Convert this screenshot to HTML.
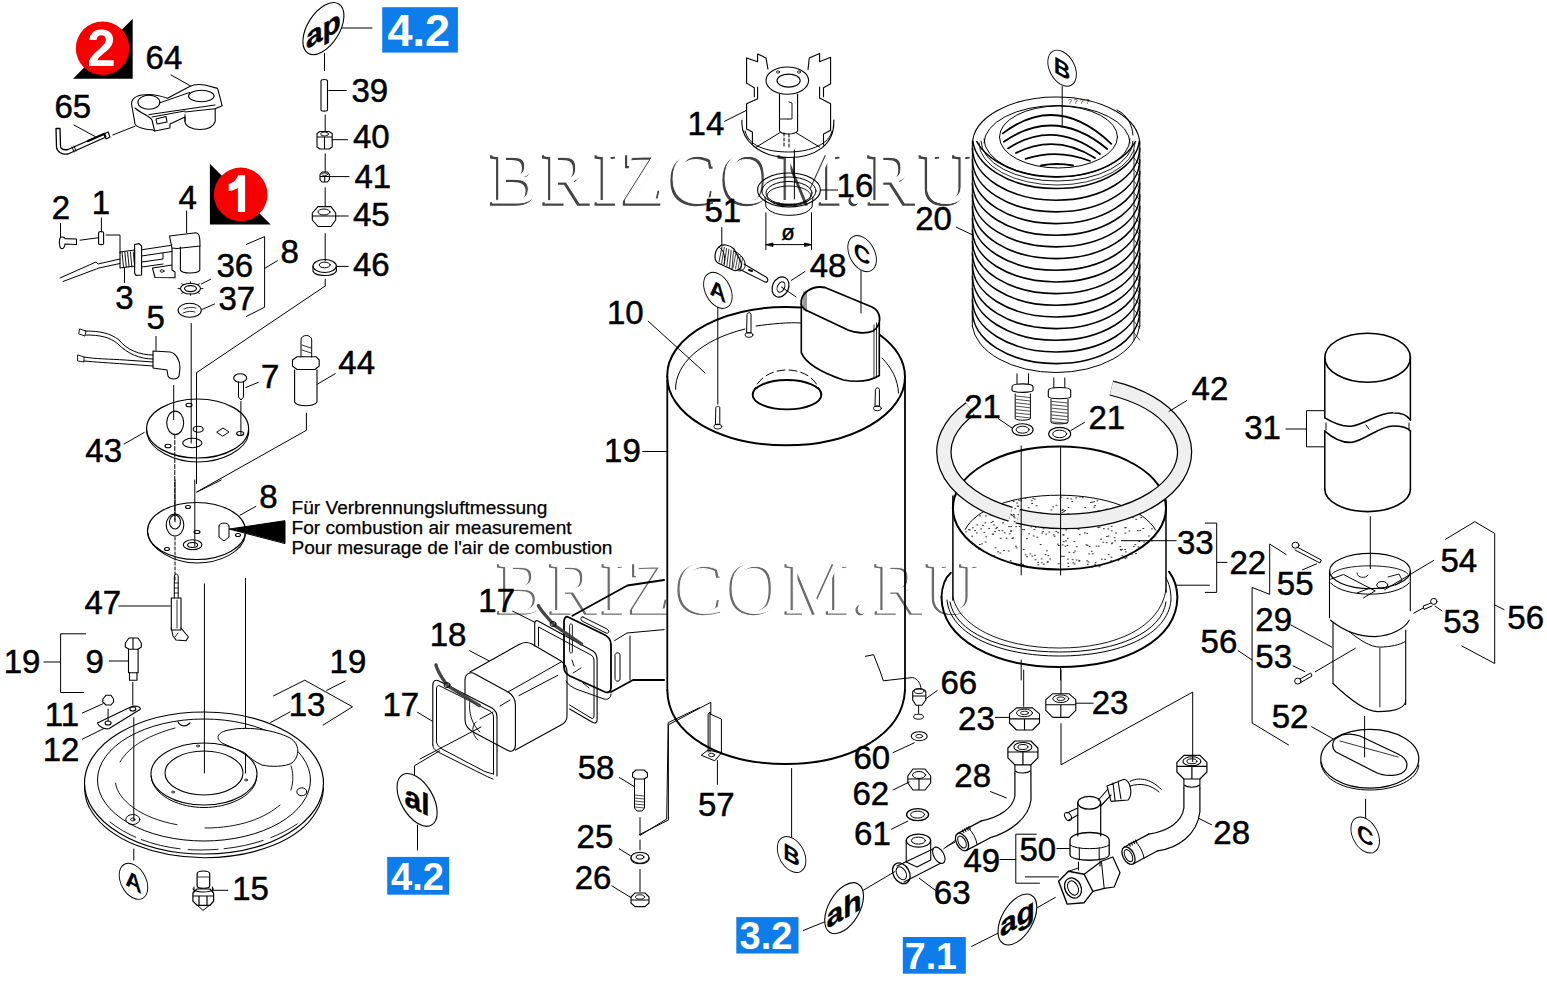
<!DOCTYPE html><html><head><meta charset="utf-8"><style>html,body{margin:0;padding:0;background:#fff;width:1547px;height:981px;overflow:hidden}svg{display:block}</style></head><body><svg width="1547" height="981" viewBox="0 0 1547 981"><rect width="1547" height="981" fill="#fff"/><g opacity="0.95"><text x="488.4" y="204.6" fill="#3a3a3a" stroke="#3a3a3a" stroke-width="1.3" font-family="Liberation Serif" font-size="73" textLength="482" lengthAdjust="spacing">BRIZCOM.RU</text><text x="490.4" y="203.2" fill="#fff" stroke="#fff" stroke-width="0.8" font-family="Liberation Serif" font-size="73" textLength="482" lengthAdjust="spacing">BRIZCOM.RU</text></g><g opacity="0.75"><text x="495.4" y="614.3" fill="#3a3a3a" stroke="#3a3a3a" stroke-width="1.3" font-family="Liberation Serif" font-size="73" textLength="482" lengthAdjust="spacing">BRIZCOM.RU</text><text x="497.4" y="612.9" fill="#fff" stroke="#fff" stroke-width="0.8" font-family="Liberation Serif" font-size="73" textLength="482" lengthAdjust="spacing">BRIZCOM.RU</text></g><g fill="none" stroke="#000" stroke-width="1.2" stroke-linejoin="round" stroke-linecap="round"><path d="M131.5,103.5 C132,97 140,94.5 149,94.5 C156,94.5 161,96 167.5,98.3 L189.6,86.6 C193,84.5 199,84 205,85 L217.6,88.4 L222.2,105.8 L215.2,108.7 L215.2,121.5 C213,128 205,129.5 200,129.5 C192,129.5 185,126 185,121.5 L185,117 L170,123.9 L169.9,128 L154.7,131 L152.4,129.7 C145,130 136,127 135,123.9 L132.6,110 Z" stroke-width="1.1" /><ellipse cx="148.9" cy="102.3" rx="11" ry="7" stroke-width="1.1"/><ellipse cx="201.3" cy="96" rx="12.8" ry="5.8" stroke-width="1.1"/><path d="M159.4,102.9 L189.6,92.5" stroke-width="1.0" /><path d="M148.9,114.6 L215,105" stroke-width="1.0" /><path d="M152,117 L185,111" stroke-width="1.0" /><path d="M185,114.6 L185,121.5" stroke-width="1.0" /><path d="M215.2,108.7 L185,112" stroke-width="1.0" /><path d="M135,108 C140,113 150,116 152,120 L154.7,131" stroke-width="1.1" /><path d="M156,119 L166,116.5 L167,122 L157,124 Z" stroke-width="1.1" /><path d="M171,75 L190.8,86" stroke-width="1.0" /><path d="M56,128.5 L56.5,147 C57,152 62,155 68,154 L106,137 L104.5,133.5 L68,149.5 C62,150.5 60.5,148 60.5,146 L60,128.5 Z" stroke-width="1.3" /><path d="M88,141 L104,134" stroke-width="2.2" /><path d="M72,147 L74,152 M74,146 L76,151" stroke-width="1.0" /><path d="M103.5,134 L108.2,132 L110,137 L106,139 Z" stroke-width="1.1" /><path d="M112.8,135 L135,126.2" stroke-width="1.0" /><path d="M73.9,125 L95.4,136.7" stroke-width="1.0" /><path d="M60,238 C59,241 59,246 61,248.5 C63,249 65,247 65,244 L76.5,244.5 L76.5,239 L65,238.6 C64,236.5 61,236.5 60,238 Z" stroke-width="1.1" /><path d="M60.5,223.4 L60.5,237.4" stroke-width="1.0" /><path d="M98.6,233 C98.6,231 103.6,231 103.6,233 L103.6,243.5 C103.6,245 98.6,245 98.6,243.5 Z" stroke-width="1.1" /><path d="M101.4,218 L101.4,232" stroke-width="1.0" /><path d="M80,240.2 L98.6,237.7" stroke-width="1.0" /><path d="M106,235 L120,235 L120,253" stroke-width="1.0" /><path d="M120,252 L134.6,250 L134.6,266 L120,268 Z" stroke-width="1.1" /><path d="M122.0,252 L123.5,267" stroke-width="0.9" /><path d="M124.8,252 L126.3,267" stroke-width="0.9" /><path d="M127.6,252 L129.1,267" stroke-width="0.9" /><path d="M130.4,252 L131.9,267" stroke-width="0.9" /><path d="M133.2,252 L134.7,267" stroke-width="0.9" /><path d="M134.6,244.5 L139,243.6 L141.6,246 L141.6,275 L136,275.4 L134.6,273 Z" stroke-width="1.1" /><path d="M141.6,249.8 L171.9,245.2" stroke-width="1.0" /><path d="M141.6,256 L171.9,251.5" stroke-width="1.0" /><path d="M142,262 L163,259 L163,253" stroke-width="1.0" /><path d="M142,267 L163,264" stroke-width="1.0" /><path d="M120,259 L98,264 L96,262 L60,278 M120,263.5 L99,268 L63,281.5" stroke-width="1.0" /><path d="M124.5,268.4 L124.5,282.4" stroke-width="1.0" /><path d="M169.5,236 L196,232.7 C199,233 200,236 200,246 L177,248.5 L172,248 Z" stroke-width="1.1" /><path d="M172,248 L172,270 L175,272 L175,277.7 L155,277.5 L152.5,268 L172,265" stroke-width="1.1" /><path d="M180.4,247 L180.4,270 C182,274 198,274 199.8,270 L199.8,246" stroke-width="1.1" /><ellipse cx="162" cy="271" rx="2" ry="1.2" stroke-width="0.9"/><path d="M186.6,211 L186.6,232.7" stroke-width="1.0" /><ellipse cx="190.5" cy="288.6" rx="10" ry="5.4" stroke-width="1.1"/><ellipse cx="190.5" cy="288.6" rx="6" ry="3" stroke-width="1.1"/><path d="M200.5,288.6 L203.0,288.6" stroke-width="0.9" /><path d="M197.57106781186548,292.41837661840736 L199.33883476483186,293.40832611206855" stroke-width="0.9" /><path d="M190.5,294.0 L190.5,295.40000000000003" stroke-width="0.9" /><path d="M183.42893218813452,292.41837661840736 L181.66116523516817,293.40832611206855" stroke-width="0.9" /><path d="M180.5,288.6 L178.0,288.6" stroke-width="0.9" /><path d="M183.42893218813452,284.7816233815927 L181.66116523516814,283.7916738879315" stroke-width="0.9" /><path d="M190.5,283.20000000000005 L190.5,281.8" stroke-width="0.9" /><path d="M197.57106781186548,284.7816233815927 L199.33883476483183,283.7916738879315" stroke-width="0.9" /><ellipse cx="189.7" cy="310.3" rx="11.6" ry="7" stroke-width="1.1"/><path d="M184,309 C188,307 192,307 196,308 M183,313 C187,311 193,311 195,312" stroke-width="0.8" /><path d="M201.3,284 L210.6,279.3" stroke-width="1.0" /><path d="M202,309.5 L214.5,304" stroke-width="1.0" /><path d="M246.3,244.4 L264.6,236.6 L264.6,307.2 L246.3,316.5" stroke-width="1.0" /><path d="M264.6,268.4 L277.4,260.7" stroke-width="1.0" /><path d="M324.5,53.5 L324.5,70.5" stroke-width="1.0" /><path d="M321,81 C321,79 327.5,79 327.5,81 L327.5,110 C327.5,111.5 321,111.5 321,110 Z" stroke-width="1.1" /><path d="M328.7,90.5 L346.3,90.5" stroke-width="1.0" /><path d="M325.2,115 L325.2,131" stroke-width="1.0" /><path d="M317,133.5 L320,131.5 L329,131.5 L332.2,133.5 L332.2,147 L329,149 L320,149 L317,147 Z M317,137 L332.2,137 M324.5,137 L324.5,149" stroke-width="1.1" /><ellipse cx="324.5" cy="134" rx="4" ry="2" stroke-width="0.9"/><path d="M332.2,139.7 L347.5,139.7" stroke-width="1.0" /><path d="M325.2,153.8 L325.2,172" stroke-width="1.0" /><path d="M320,174.5 L322,172 L327.5,172 L329.4,174.5 L329.4,179.5 L327.5,182 L322,182 L320,179.5 Z M320,176.5 L329.4,176.5 M324.7,176.5 L324.7,182" stroke-width="1.1" /><ellipse cx="324.7" cy="174.3" rx="3" ry="1.3" stroke-width="0.8"/><path d="M329.4,176.6 L349,176.6" stroke-width="1.0" /><path d="M325.2,187.8 L325.2,206" stroke-width="1.0" /><path d="M312.3,213 L318,206.6 L331,206.6 L335.7,213 L335.7,220 L331,226.5 L318,226.5 L312.3,220 Z M312.3,216 L335.7,216" stroke-width="1.1" /><ellipse cx="324" cy="212" rx="6" ry="3" stroke-width="1.0"/><path d="M335.7,216 L348.2,216" stroke-width="1.0" /><path d="M325.2,233.6 L325.2,261" stroke-width="1.0" /><ellipse cx="324.7" cy="266" rx="11.7" ry="6.5" stroke-width="1.1"/><ellipse cx="324.7" cy="265" rx="5.5" ry="2.8" stroke-width="1.0"/><path d="M313,266 L313,271 C315,277 334,277 336.4,271 L336.4,266" stroke-width="1.1" /><path d="M336.4,266.4 L348.2,266.4" stroke-width="1.0" /><path d="M325.2,279.3 L325.2,286" stroke-width="1.0" /><path d="M325.2,286 L196.5,372.7" stroke-width="1.0" /><path d="M156,336.4 L156,350.3" stroke-width="1.0" /><path d="M153,351 L170,352 C176,353 180,360 180,368 L179,376 C177,380 170,380 168,376 L167,370 L153,368 Z" stroke-width="1.1" /><path d="M153,355 C140,355 127,350 119,340 C110,333 100,331 85,331 M153,359 C140,359 128,354 118,344 C110,337 100,335 86,335" stroke-width="1.0" /><path d="M153,362 L125,360 C110,359 95,359 84,357 M153,366 L125,364 C110,363 95,362 84,361" stroke-width="1.0" /><path d="M80,329 L86,331 L85,336 L79,334 Z M78,355 L84,357 L84,362 L78,361 Z" stroke-width="0.9" /><path d="M173.7,385.5 L173.7,419.6" stroke-width="1.0" /><path d="M174.8,434.5 L174.8,520" stroke-width="1.0" stroke-dasharray="4,2"/><path d="M191.2,323.5 L191.2,443" stroke-width="1.0" /><path d="M196.5,372.7 L196.5,483.6" stroke-width="1.0" /><ellipse cx="197.6" cy="428.5" rx="51" ry="29.5" stroke-width="1.2"/><path d="M146.6,430 L147,434 C150,450 175,462 197.6,462 C222,462 246,450 248.6,434 L248.6,430" stroke-width="1.1" /><ellipse cx="175.2" cy="422.8" rx="8.5" ry="11.7" stroke-width="1.1"/><ellipse cx="192.3" cy="443" rx="9.6" ry="4.7" stroke-width="1.1"/><ellipse cx="198.2" cy="429.2" rx="5" ry="3" stroke-width="1.1"/><path d="M217,432 L223,428 L229,432 L223,436 Z" stroke-width="1.0" /><ellipse cx="240.2" cy="433.5" rx="3.5" ry="2" stroke-width="1.1"/><ellipse cx="168" cy="446" rx="3" ry="1.8" stroke-width="1.1"/><ellipse cx="189" cy="405" rx="3" ry="1.8" stroke-width="1.1"/><ellipse cx="240.2" cy="378" rx="6.5" ry="4.3" stroke-width="1.1"/><path d="M238.5,382 L238.5,397 L241,400 L243.5,397 L243.5,382" stroke-width="1.0" /><path d="M245.6,387.6 L258.4,382.3" stroke-width="1.0" /><path d="M240.9,401.5 L240.9,434.5" stroke-width="1.0" /><path d="M294.6,370 L294.6,402 C297,407 314,407 317,402 L317,370" stroke-width="1.1" /><path d="M292.5,360 L297,356.7 L316,356.7 L319.2,360 L319.2,366 L315,369.5 L297,369.5 L292.5,366 Z" stroke-width="1.1" /><path d="M301,357 L301,340 C301,334 311.7,334 311.7,340 L311.7,357" stroke-width="1.0" /><path d="M302,345 L311,348" stroke-width="0.8" /><path d="M302,350 L311,353" stroke-width="0.8" /><path d="M317,384.4 L335.2,373.7" stroke-width="1.0" /><path d="M306.4,413.2 L306.4,430.3 L196.5,492.1" stroke-width="1.0" /><path d="M124,444.1 L144.3,432.4" stroke-width="1.0" /><ellipse cx="196.5" cy="531" rx="49" ry="28.5" stroke-width="1.2"/><path d="M147.6,533 C150,550 175,563 196.5,563 C220,563 243,552 245.4,535" stroke-width="1.1" /><ellipse cx="175" cy="525" rx="8.8" ry="11" stroke-width="1.1"/><ellipse cx="175" cy="522" rx="5.5" ry="7" stroke-width="1.1"/><ellipse cx="192.6" cy="544.8" rx="9.3" ry="5" stroke-width="1.1"/><ellipse cx="192.6" cy="545" rx="5" ry="2.5" stroke-width="1.1"/><path d="M219,526 L219,537 L224,541 L229,537 L229,526 M219,526 C219,522 229,522 229,526" stroke-width="1.0" /><ellipse cx="188" cy="507" rx="2.5" ry="1.5" stroke-width="1.1"/><ellipse cx="167" cy="549" rx="2.5" ry="1.5" stroke-width="1.1"/><ellipse cx="238" cy="535" rx="2.5" ry="1.5" stroke-width="1.1"/><ellipse cx="197" cy="532" rx="3" ry="1.5" stroke-width="1.1"/><path d="M229.5,529 L285,520.7 L285,543.2 Z" stroke-width="1.0" fill="#000"/><path d="M175,480 L175,521.8" stroke-width="1.0" /><path d="M175,537 L175,580" stroke-width="1.0" stroke-dasharray="3,2"/><path d="M194.8,480 L194.8,546" stroke-width="1.0" /><path d="M197,492 L221.2,480" stroke-width="1.0" /><path d="M240,515.2 L255.8,506.4" stroke-width="1.0" /><path d="M174.3,598 L174.3,577 C174.3,573 178.2,573 178.2,577 L178.2,598" stroke-width="1.0" /><path d="M174.3,583 L178.2,583" stroke-width="0.8" /><path d="M174.3,588 L178.2,588" stroke-width="0.8" /><path d="M174.3,593 L178.2,593" stroke-width="0.8" /><path d="M171.3,598 L181,598 L181,630 L171.3,630 Z" stroke-width="1.1" /><path d="M177,600 L177,628" stroke-width="0.8" /><path d="M171.3,628 L173,636 L176,640 L186,640.7 L188.4,637 L181,628" stroke-width="1.1" /><path d="M175,637 L178,633" stroke-width="0.8" /><path d="M118.8,606 L170.2,606" stroke-width="1.0" /><path d="M85.7,633.8 L60.6,633.8 L60.6,692.5 L83.5,692.5" stroke-width="1.0" /><path d="M43.9,662 L60.6,662" stroke-width="1.0" /><path d="M125.3,643 L129,638 L138,638 L141.3,643 L141.3,647 L138,649.2 L129,649.2 L125.3,647 Z M133,638 L133,649" stroke-width="1.1" /><path d="M128.5,649.2 L128.5,672.8 L138.1,672.8 L138.1,649.2" stroke-width="1.1" /><path d="M129.5,672.8 L129.5,680.3 L137,680.3 L137,672.8" stroke-width="1.1" /><path d="M109.2,661 L128.5,661" stroke-width="1.0" /><path d="M132.8,682.4 L132.8,705" stroke-width="1.0" /><path d="M102.8,699 L106,695.3 L111,695.3 L113.5,699 L113.5,702 L111,705 L106,705 L102.8,702 Z" stroke-width="1.1" /><path d="M108.1,709 L108.1,721" stroke-width="1.0" /><path d="M97.4,723.1 L130.6,707 C136,705 141,707 140.3,709.2 L109.2,728.5 C105,730 99,727 97.4,723.1 Z" stroke-width="1.1" /><ellipse cx="108.1" cy="723" rx="3" ry="2" stroke-width="1.1"/><ellipse cx="132.8" cy="709" rx="3" ry="2" stroke-width="1.1"/><path d="M82.4,713 L102.8,703.8" stroke-width="1.0" /><path d="M82.4,739.2 L103.9,728.5" stroke-width="1.0" /><path d="M133.8,717.8 L133.8,820" stroke-width="1.0" /><path d="M273.6,695.8 L304.8,680.2 L352.5,706.8 L323.1,725.1" stroke-width="1.0" /><path d="M326.8,690.3 L345.1,681.1" stroke-width="1.0" /><path d="M270.8,722.4 L290.1,711.9" stroke-width="1.0" /><path d="M204.4,583.9 L204.4,773" stroke-width="1.0" /><path d="M245.5,578.3 L245.5,773" stroke-width="1.0" /><ellipse cx="204" cy="783" rx="119.5" ry="71" stroke-width="1.2"/><path d="M84.5,786 C85,800 88,806 92,812 C110,840 155,857.7 204,857.7 C255,857.7 300,840 316,812 C320,806 323,798 323.5,788" stroke-width="1.1" /><path d="M110,822 C135,842 170,850 200,850 C240,850 275,840 300,822" stroke-width="0.9" stroke-dasharray="30,6,40,8"/><ellipse cx="204" cy="780" rx="106.5" ry="61" stroke-width="1.0"/><path d="M115.5,783.2 C118,800 140,818 177,824.7 M205,828 C240,828 265,818 280,805 M291,765.8 C293,772 294,780 291,790 M120,762 C130,745 150,735 175,728" stroke-width="0.9" /><ellipse cx="204" cy="774" rx="53" ry="31" stroke-width="1.1"/><path d="M151,776 L152,781 C157,797 180,807.5 204,807.5 C228,807.5 252,797 256,781 L256.7,776" stroke-width="1.0" /><ellipse cx="204" cy="773" rx="39" ry="22" stroke-width="1.1"/><path d="M222,743 C215,738 218,733 225,731 C245,725 275,730 290,738 C300,744 300,756 292,763 C285,767 270,767 262,765 C255,762 250,758 245,753 Z" stroke-width="1.0" fill="#fff"/><ellipse cx="132.8" cy="819.5" rx="7" ry="5" stroke-width="1.0"/><ellipse cx="132.8" cy="819.5" rx="2.2" ry="1.5" stroke-width="0.9"/><ellipse cx="301.8" cy="791.8" rx="5" ry="4" stroke-width="1.0"/><path d="M178,722 C181,727 186,727 190,723" stroke-width="1.2" /><ellipse cx="198" cy="746" rx="1.5" ry="1" stroke-width="0.8"/><ellipse cx="173" cy="792" rx="1.5" ry="1" stroke-width="0.8"/><ellipse cx="246" cy="780" rx="1.5" ry="1" stroke-width="0.8"/><path d="M133.8,849 L133.8,860" stroke-width="1.0" /><path d="M197.1,874 C197.1,870 209.7,870 209.7,874 L209.7,886 C209.7,889 197.1,889 197.1,886 Z" stroke-width="1.2" /><path d="M198,877 L208.5,877" stroke-width="0.8" /><path d="M194,887 L194,892 M212.5,887 L212.5,892 M193,889 C196,893 210,893 213.5,889" stroke-width="1.1" /><path d="M192.9,893 L197,889 L210,889 L213.6,893 L213.6,901 L210,905.3 L197,905.3 L192.9,901 Z M193,896 L213.6,896 M199,896 L199,905 M207,896 L207,905" stroke-width="1.2" /><path d="M194.9,903 L203,910.4 L212.3,903" stroke-width="1.0" /><path d="M212.3,890.3 L227.8,890.3" stroke-width="1.0" /><path d="M746.6,83.1 L746.6,57.9 L757.6,61.8 L757.6,54 L766,57.9 L767.9,68.9" stroke-width="1.1" /><path d="M746.6,83.1 L754.3,87.7 L754.3,96.7 M757.6,87 L757.6,98.7 L746.6,103.8 L746.6,129 L752.4,132 L752.4,144" stroke-width="1.1" /><path d="M830.6,83.8 L830.6,57.3 L819.6,61.8 L819.6,53.4 L809.3,57.9 L808,69.6" stroke-width="1.1" /><path d="M830.6,83.8 L823.5,87.7 L823.5,96.7 M819.6,87 L819.6,98 L830.6,103.8 L830.6,130.3 L823.5,134 L823.5,145" stroke-width="1.1" /><ellipse cx="787.3" cy="80.6" rx="21.3" ry="13.6" stroke-width="1.1"/><ellipse cx="788.6" cy="80.6" rx="11.6" ry="6.5" stroke-width="1.1"/><ellipse cx="778" cy="72" rx="1.5" ry="1.2" stroke-width="0.8"/><ellipse cx="799" cy="72" rx="1.5" ry="1.2" stroke-width="0.8"/><path d="M779.5,94.1 L779.5,131 C782,135 794,135 797.6,131 L797.6,94.1" stroke-width="1.1" /><path d="M789,102 L792,103 L792,119 L788,119" stroke-width="0.9" /><path d="M779.5,119 L788,119" stroke-width="0.9" /><path d="M742,120 C740,140 760,157.5 788.6,157.5 C815,157.5 835,145 833.8,120" stroke-width="1.1" /><path d="M745,131 C748,145 765,152 788.6,152 C812,152 830,143 832,131" stroke-width="1.0" /><path d="M756.3,147.1 L779.5,132.9" stroke-width="1.0" /><path d="M819.6,147.1 L796.4,132.9" stroke-width="1.0" /><path d="M784,133 L784,148" stroke-width="1.0" stroke-dasharray="3,2"/><path d="M789,134 L789,148" stroke-width="1.0" stroke-dasharray="3,2"/><path d="M724.6,121.3 L746.6,110.3" stroke-width="1.0" /><path d="M793.8,157.5 L793.8,176" stroke-width="1.0" /><ellipse cx="789" cy="190" rx="31.4" ry="17" stroke-width="1.1"/><ellipse cx="789" cy="191" rx="27" ry="14" stroke-width="1.0"/><ellipse cx="789" cy="193" rx="23" ry="11.5" stroke-width="1.0"/><ellipse cx="789" cy="196" rx="22" ry="10" stroke-width="0.9"/><path d="M765,197 L766,207 C770,213 780,215.3 789,215.3 C800,215.3 808,213 812,207 L813,197" stroke-width="1.0" /><path d="M820.5,190 L837.6,190" stroke-width="1.0" /><path d="M794.4,150 L794.4,199" stroke-width="1.0" /><path d="M765.9,212.8 L765.9,249.5" stroke-width="1.0" /><path d="M811.5,212.8 L811.5,249.5" stroke-width="1.0" /><path d="M766,244.6 L811.5,244.6" stroke-width="1.0" /><path d="M766,244.6 L773,243 L773,246.2 Z M811.5,244.6 L804.5,243 L804.5,246.2 Z" stroke-width="0.8" fill="#000"/><text x="788" y="240" text-anchor="middle" font-family="Liberation Sans" font-size="22" fill="#000" stroke="#000" stroke-width="0.4">ø</text><path d="M719,247 C722,243 730,245 734,249 L741,262 C743,268 738,272 733,270 L718,263 C713,260 715,250 719,247 Z" stroke-width="1.2" /><path d="M719,247 C723,249 726,256 724,264" stroke-width="1.0" /><path d="M722.0,246.5 L719.0,262.0" stroke-width="0.8" /><path d="M724.3,247.4 L721.6,263.4" stroke-width="0.8" /><path d="M726.6,248.3 L724.2,264.8" stroke-width="0.8" /><path d="M728.9,249.2 L726.8,266.2" stroke-width="0.8" /><path d="M731.2,250.1 L729.4,267.6" stroke-width="0.8" /><path d="M733.5,251.0 L732.0,269.0" stroke-width="0.8" /><path d="M734,251 C738,252 744,258 745,263 C746,268 743,271 739,271" stroke-width="1.0" /><path d="M736.0,253.0 L733.0,268.0" stroke-width="0.7" /><path d="M738.2,254.5 L735.5,268.8" stroke-width="0.7" /><path d="M740.4,256.0 L738.0,269.6" stroke-width="0.7" /><path d="M742.6,257.5 L740.5,270.4" stroke-width="0.7" /><path d="M744,264 L766,277 C769,279 768,283 765,282 L741,270" stroke-width="1.1" /><path d="M749,270 L752,271" stroke-width="2.0" /><path d="M721.8,227.5 L721.8,244.6" stroke-width="1.0" /><ellipse cx="780.5" cy="287" rx="8" ry="10.5" stroke-width="1.2" transform="rotate(25 780.5 287)"/><ellipse cx="781" cy="287" rx="3.5" ry="5.5" stroke-width="1.0" transform="rotate(25 781 287)"/><path d="M791.1,280.5 L805,271.5" stroke-width="1.0" /><path d="M781.4,287 L796,296.8" stroke-width="1.0" /><path d="M667.3,377 A118.8,68.3 0 0 0 905,377" stroke-width="2.0" /><path d="M667.3,377 A118.8,68.3 0 0 1 801,307.5" stroke-width="2.0" /><path d="M880,335 A118.8,68.3 0 0 1 905,377" stroke-width="2.0" /><path d="M675.6,389.3 C675,365 700,340 745,329" stroke-width="1.0" /><path d="M756,326 C770,324 790,322 801,323" stroke-width="1.0" /><path d="M882,358 C892,368 898,380 898.5,393" stroke-width="1.0" /><ellipse cx="787" cy="394.7" rx="34.4" ry="14.7" stroke-width="1.8"/><path d="M753,395 C755,380 770,370 787,370 C805,370 818,380 821,395" stroke-width="1.0" stroke-dasharray="8,4"/><path d="M801.3,304 C800,293 812,285 825,287.5 L872,307 C882,312 882,325 873,331 C866,334 855,333 848,330 L812,313 C805,310 801.3,308 801.3,304 Z" stroke-width="1.8" fill="#fff"/><path d="M801.3,304 L801.3,352.6 C805,362 820,372 843.5,380 C860,383 872,380 879.3,375.5 L879.3,323" stroke-width="1.6" /><path d="M874,325 L874,378" stroke-width="0.8" /><path d="M876.5,323 L876.5,377" stroke-width="0.8" /><path d="M804,292 L804,310" stroke-width="0.8" /><path d="M806,291 L806,311" stroke-width="0.8" /><path d="M747,314.2 C747,312.2 751,312.2 751,314.2 L751,332.9 L747,332.9 Z" stroke-width="1.0" /><ellipse cx="749" cy="334.9" rx="4" ry="2.5" stroke-width="0.9"/><path d="M715.8,407.8 C715.8,405.8 719.8,405.8 719.8,407.8 L719.8,424.6 L715.8,424.6 Z" stroke-width="1.0" /><ellipse cx="717.8" cy="426.6" rx="4" ry="2.5" stroke-width="0.9"/><path d="M875.4,389.4 C875.4,387.4 879.4,387.4 879.4,389.4 L879.4,406.3 L875.4,406.3 Z" stroke-width="1.0" /><ellipse cx="877.4" cy="408.3" rx="4" ry="2.5" stroke-width="0.9"/><path d="M717.8,307.6 L717.8,404" stroke-width="1.0" /><path d="M861,270.7 L861,313" stroke-width="1.0" /><path d="M648.2,321.2 L705,372.8" stroke-width="1.0" /><path d="M667.3,380 L667.3,690" stroke-width="1.8" /><path d="M905,380 L905,690" stroke-width="1.8" /><path d="M667.3,690 C668,735 720,764 786,764 C850,764 903,735 905,690" stroke-width="2.0" /><path d="M642.7,451.5 L666.6,451.5" stroke-width="1.0" /><clipPath id="coilclip"><rect x="960" y="141" width="200" height="260"/></clipPath><g clip-path="url(#coilclip)"><path d="M972.4999999999999,124.9 A83.6,52 0 0 0 1139.6999999999998,124.9" stroke-width="1.6"/><path d="M972.4999999999999,136.57 A83.6,52 0 0 0 1139.6999999999998,136.57" stroke-width="1.6"/><path d="M972.4999999999999,148.24 A83.6,52 0 0 0 1139.6999999999998,148.24" stroke-width="1.6"/><path d="M972.4999999999999,159.91 A83.6,52 0 0 0 1139.6999999999998,159.91" stroke-width="1.6"/><path d="M972.4999999999999,171.58 A83.6,52 0 0 0 1139.6999999999998,171.58" stroke-width="1.6"/><path d="M972.4999999999999,183.25 A83.6,52 0 0 0 1139.6999999999998,183.25" stroke-width="1.6"/><path d="M972.4999999999999,194.92000000000002 A83.6,52 0 0 0 1139.6999999999998,194.92000000000002" stroke-width="1.6"/><path d="M972.4999999999999,206.59000000000003 A83.6,52 0 0 0 1139.6999999999998,206.59000000000003" stroke-width="1.6"/><path d="M972.4999999999999,218.26 A83.6,52 0 0 0 1139.6999999999998,218.26" stroke-width="1.6"/><path d="M972.4999999999999,229.93 A83.6,52 0 0 0 1139.6999999999998,229.93" stroke-width="1.6"/><path d="M972.4999999999999,241.60000000000002 A83.6,52 0 0 0 1139.6999999999998,241.60000000000002" stroke-width="1.6"/><path d="M972.4999999999999,253.26999999999998 A83.6,52 0 0 0 1139.6999999999998,253.26999999999998" stroke-width="1.6"/><path d="M972.4999999999999,264.94 A83.6,52 0 0 0 1139.6999999999998,264.94" stroke-width="1.6"/><path d="M972.4999999999999,276.61 A83.6,52 0 0 0 1139.6999999999998,276.61" stroke-width="1.6"/><path d="M972.4999999999999,288.28 A83.6,52 0 0 0 1139.6999999999998,288.28" stroke-width="1.6"/><path d="M972.4999999999999,299.95000000000005 A83.6,52 0 0 0 1139.6999999999998,299.95000000000005" stroke-width="1.6"/><path d="M972.4999999999999,311.62 A83.6,52 0 0 0 1139.6999999999998,311.62" stroke-width="1.6"/></g><path d="M972.3,326 A84,50.4 0 0 0 1139.8,326" stroke-width="1.0"/><path d="M972.3,141 L972.3,326" stroke-width="1.0" /><path d="M1139.8,141 L1139.8,326" stroke-width="1.0" /><path d="M1134,150 L1134,340" stroke-width="0.8" /><path d="M1134,158.0 L1139.8,165.0" stroke-width="0.7" /><path d="M1134,169.67 L1139.8,176.67" stroke-width="0.7" /><path d="M1134,181.34 L1139.8,188.34" stroke-width="0.7" /><path d="M1134,193.01 L1139.8,200.01" stroke-width="0.7" /><path d="M1134,204.68 L1139.8,211.68" stroke-width="0.7" /><path d="M1134,216.35 L1139.8,223.35" stroke-width="0.7" /><path d="M1134,228.01999999999998 L1139.8,235.01999999999998" stroke-width="0.7" /><path d="M1134,239.69 L1139.8,246.69" stroke-width="0.7" /><path d="M1134,251.36 L1139.8,258.36" stroke-width="0.7" /><path d="M1134,263.03 L1139.8,270.03" stroke-width="0.7" /><path d="M1134,274.7 L1139.8,281.7" stroke-width="0.7" /><path d="M1134,286.37 L1139.8,293.37" stroke-width="0.7" /><path d="M1134,298.03999999999996 L1139.8,305.03999999999996" stroke-width="0.7" /><path d="M1134,309.71000000000004 L1139.8,316.71000000000004" stroke-width="0.7" /><path d="M1134,321.38 L1139.8,328.38" stroke-width="0.7" /><path d="M1134,333.05 L1139.8,340.05" stroke-width="0.7" /><path d="M972.4999999999999,144 A83.6,47 0 0 1 1139.6999999999998,144" stroke-width="1.1"/><path d="M984,143 A73,37.5 0 0 1 1130,143" stroke-width="1.0"/><ellipse cx="1058.5" cy="137" rx="59" ry="31" stroke-width="1.0"/><path d="M984,139 A73,38 0 0 0 1130,139" stroke-width="1.0"/><path d="M981,141 A76,40 0 0 0 1133,141" stroke-width="0.9"/><path d="M979,143 A78,42 0 0 0 1135,143" stroke-width="0.8"/><path d="M1002.8,133.4 Q1057.05,91.99999999999997 1111.3,143.8" stroke-width="1.8"/><path d="M1003.8,141.7 Q1055.5,106.05000000000001 1107.2,149" stroke-width="1.8"/><path d="M1008,148.4 Q1054.0,118.80000000000001 1100,154" stroke-width="1.8"/><path d="M1016,153 Q1055.5,133.10000000000002 1095,158" stroke-width="1.8"/><path d="M1025.5,158.8 Q1057.75,148.29999999999998 1090,161" stroke-width="1.8"/><path d="M1041,165.5 Q1057.0,162.5 1073,165.5" stroke-width="1.8"/><path d="M1117,110 L1122,113 C1128,118 1132,125 1133,135" stroke-width="1.0" /><text x="1068" y="104" font-family="Liberation Sans" font-size="7" fill="#000" stroke="none">? ? ? ?</text><path d="M1062.2,86.5 L1062.2,127.2" stroke-width="1.0" /><path d="M1017,373.8 L1017,383.9" stroke-width="1.0" /><path d="M1028.5,373.8 L1028.5,383.9" stroke-width="1.0" /><path d="M1012,386.9 C1012,382.9 1033.1,382.9 1033.1,386.9 L1033.1,390.1 C1033.1,393.1 1012,393.1 1012,390.1 Z" stroke-width="1.1" /><path d="M1015.2,394 L1015.2,418.7 C1018.2,420.7 1027.4,420.7 1030.4,418.7 L1030.4,394" stroke-width="1.0" /><path d="M1016.2,396.0 L1029.4,397.5" stroke-width="0.7" /><path d="M1016.2,399.4 L1029.4,400.9" stroke-width="0.7" /><path d="M1016.2,402.8 L1029.4,404.3" stroke-width="0.7" /><path d="M1016.2,406.2 L1029.4,407.7" stroke-width="0.7" /><path d="M1016.2,409.6 L1029.4,411.1" stroke-width="0.7" /><path d="M1016.2,413.0 L1029.4,414.5" stroke-width="0.7" /><path d="M1016.2,416.4 L1029.4,417.9" stroke-width="0.7" /><path d="M1053.8,377.9 L1053.8,387.5" stroke-width="1.0" /><path d="M1064.8,377.9 L1064.8,387.5" stroke-width="1.0" /><path d="M1048.3,390.5 C1048.3,386.5 1070.7,386.5 1070.7,390.5 L1070.7,396.5 C1070.7,399.5 1048.3,399.5 1048.3,396.5 Z" stroke-width="1.1" /><path d="M1051,399.4 L1051,422.4 C1054,424.4 1065,424.4 1068,422.4 L1068,399.4" stroke-width="1.0" /><path d="M1052,401.4 L1067,402.9" stroke-width="0.7" /><path d="M1052,404.79999999999995 L1067,406.29999999999995" stroke-width="0.7" /><path d="M1052,408.2 L1067,409.7" stroke-width="0.7" /><path d="M1052,411.59999999999997 L1067,413.09999999999997" stroke-width="0.7" /><path d="M1052,415.0 L1067,416.5" stroke-width="0.7" /><path d="M1052,418.4 L1067,419.9" stroke-width="0.7" /><path d="M1052,421.79999999999995 L1067,423.29999999999995" stroke-width="0.7" /><ellipse cx="1022.6" cy="429.7" rx="10.5" ry="6" stroke-width="1.1"/><ellipse cx="1022.6" cy="429.7" rx="6.5" ry="3.5" stroke-width="1.0"/><ellipse cx="1059.7" cy="433.9" rx="11" ry="6.5" stroke-width="1.1"/><ellipse cx="1059.7" cy="433.9" rx="7" ry="3.8" stroke-width="1.0"/><path d="M998.3,418.7 L1012,427.9" stroke-width="1.0" /><path d="M1070.7,430.6 L1084.5,422.4" stroke-width="1.0" /><path d="M941.5,597 C942,640 995,667 1059.5,667 C1125,667 1177,640 1177.4,597 C1177,585 1173,577 1169,571.7" stroke-width="2.0" /><path d="M941.5,597 C942,585 946,577 950.9,572.7" stroke-width="1.8" /><path d="M947,600 C950,635 1000,656 1059.5,656 C1120,656 1168,635 1171,600 C1171,590 1169,583 1166,578" stroke-width="1.0" /><path d="M950,602 C955,632 1000,652 1059.5,652 C1118,652 1162,632 1166,602" stroke-width="1.0" /><path d="M953,597 C958,625 1000,648 1059.5,648 C1115,648 1160,628 1166,590" stroke-width="0.9" /><path d="M952.9,496 L952.9,600" stroke-width="1.5" /><path d="M1166,500 L1166,592" stroke-width="1.5" /><path d="M952.9,508 A106.5,61.5 0 0 1 1166,508" stroke-width="2.0" /><path d="M952.9,508 A106.5,61.5 0 0 0 1166,508" stroke-width="2.0" /><path d="M965.3,529.3 C975,510 1010,495.2 1059.5,495.2 C1105,495.2 1145,510 1155.7,530.3" stroke-width="1.0" /><path d="M1028.1,507.7h1M1091.9,502.1h1M1069.5,523.0h1M976.3,533.0h1M972.3,527.8h1M1047.8,555.7h1M989.1,512.8h1M1087.3,564.3h1M1077.5,525.2h1M1132.4,517.6h1M1025.2,554.9h1M1000.2,538.3h1M1089.6,523.4h1M1071.8,501.5h1M1097.7,527.4h1M1026.3,538.6h1M1053.4,518.3h1M1119.9,546.6h1M1012.6,537.8h1M1067.4,559.1h1M1107.2,517.4h1M1046.5,550.8h1M994.6,531.7h1M972.6,544.4h1M1114.1,537.7h1M1135.7,519.3h1M1100.6,539.2h1M1078.1,529.4h1M1057.4,544.2h1M976.8,546.8h1M1091.2,567.5h1M1125.3,517.2h1M1040.2,544.5h1M969.4,529.8h1M990.2,514.6h1M1041.2,558.9h1M980.7,528.9h1M1072.1,559.7h1M1124.8,558.3h1M1019.3,526.5h1M1035.0,559.8h1M999.4,513.5h1M1010.5,531.4h1M1079.9,515.7h1M1037.0,537.2h1M1065.5,540.8h1M1096.9,500.8h1M1135.5,553.6h1M1041.5,525.3h1M985.2,542.0h1M1005.7,508.5h1M1031.3,500.7h1M984.8,522.8h1M1084.7,507.5h1M1014.2,521.7h1M1036.0,505.7h1M1055.9,531.4h1M1031.8,515.8h1M1126.6,508.5h1M1068.0,507.4h1M1070.9,498.9h1M1068.0,566.5h1M1133.3,546.4h1M1015.9,523.0h1M997.6,551.8h1M1068.9,552.3h1M1029.3,512.8h1M1131.3,554.2h1M1124.6,549.5h1M1009.2,533.8h1M1034.3,499.1h1M1015.5,546.2h1M1151.5,528.8h1M1008.0,513.1h1M1003.4,511.5h1M1086.7,560.9h1M1128.9,531.0h1M1092.3,553.8h1M981.5,543.9h1M1111.3,530.9h1M999.8,553.0h1M1029.8,553.9h1M1043.3,564.2h1M1106.3,509.1h1M993.5,555.7h1M1033.3,536.0h1M1067.7,563.3h1M1049.6,558.9h1M1126.1,512.0h1M1014.1,517.8h1M1011.9,538.6h1M1015.6,526.7h1M1034.0,529.5h1M1078.8,561.2h1M1047.0,562.2h1M1062.8,534.8h1M1067.1,498.3h1M1050.8,510.0h1M998.6,530.6h1M1106.4,536.5h1M1028.6,533.8h1M1073.3,552.7h1M985.7,536.8h1M1013.5,516.7h1M1115.6,533.0h1M1074.5,551.0h1M1142.9,528.5h1M1084.4,532.9h1M1064.9,546.2h1M1053.2,534.9h1M1058.2,563.8h1M1101.3,559.2h1M1074.1,564.0h1M988.7,528.4h1M979.3,544.5h1M1117.9,560.7h1M995.1,547.8h1M1093.8,507.2h1M1042.7,531.6h1M996.5,527.6h1M1065.5,521.1h1M1003.2,519.6h1M1073.0,528.3h1M1086.7,533.4h1M985.4,515.9h1M1017.7,506.2h1M1047.3,561.7h1M1124.7,515.4h1M1076.3,546.7h1M1099.2,527.2h1M1088.7,553.9h1M1053.5,521.1h1M1072.8,562.8h1M1017.2,506.2h1M1067.7,513.9h1M1025.8,518.7h1M1113.1,517.6h1M1062.5,509.6h1M1032.7,498.3h1M1108.0,536.1h1M1001.9,530.7h1M1124.7,527.7h1M1061.5,556.3h1M1041.7,533.0h1M1099.1,566.8h1M1031.8,556.1h1M1102.8,542.2h1M1043.9,521.7h1M978.8,549.6h1M1014.8,508.6h1M1134.8,544.6h1M1020.0,514.2h1M1022.1,529.6h1M995.7,528.7h1M1016.3,565.3h1M1154.7,535.8h1M1025.4,522.3h1M1057.6,532.7h1M1004.2,532.8h1M982.5,525.4h1M1024.3,513.5h1M1079.2,534.6h1M1111.4,543.7h1M1104.6,559.4h1M1041.0,520.2h1M1106.2,542.7h1M1138.9,541.5h1M1108.1,554.7h1M992.2,534.2h1M1063.4,556.3h1M1121.9,555.7h1M1078.9,560.4h1M1098.2,546.2h1M991.0,522.6h1M1073.9,541.6h1M1087.1,545.3h1M1060.4,497.2h1M1120.6,550.1h1M1063.1,535.0h1M1093.6,501.7h1M1108.7,514.9h1M979.5,515.9h1M1107.2,511.6h1M1061.3,524.2h1M1058.4,545.5h1M1114.6,540.8h1M1090.3,502.5h1M993.7,515.0h1M1109.9,518.6h1M1075.7,497.9h1M1096.0,546.1h1M1096.8,517.7h1M1065.7,530.0h1M1055.9,505.4h1M968.4,529.6h1M1052.6,516.1h1M1006.1,538.3h1M992.6,534.2h1M1124.9,533.1h1M1137.9,546.9h1M1010.1,560.7h1M1059.8,498.8h1M965.7,531.9h1M1052.9,518.4h1M992.4,521.4h1M1026.6,556.7h1M1140.8,517.6h1M1037.6,524.9h1M1035.3,527.4h1M1018.7,500.4h1M1020.7,563.4h1M1013.6,515.9h1M1064.6,510.5h1M1037.8,564.9h1M1088.0,561.9h1M1148.4,536.0h1M1105.3,500.5h1M1107.8,529.0h1M1111.8,542.8h1M1020.8,500.5h1M1057.1,521.4h1M1023.1,549.5h1M1092.9,518.4h1M1073.7,525.0h1M997.6,508.5h1M1005.5,561.3h1M1061.9,512.6h1M1052.7,506.9h1M1031.7,503.5h1M1011.6,515.3h1M1076.1,560.0h1M1111.2,526.3h1M1045.7,534.2h1M1038.5,521.0h1M1063.2,541.7h1M1133.3,512.3h1M1017.8,514.6h1M1043.0,528.7h1M1139.7,530.6h1M1079.5,497.0h1M1041.3,562.8h1M1126.0,557.7h1M1066.9,545.4h1M1091.2,551.3h1M1054.2,536.2h1M1010.4,562.3h1M1090.9,518.6h1M990.0,514.9h1M1089.1,546.6h1M1067.3,538.4h1M1040.7,512.9h1M1082.2,497.7h1M1023.8,529.7h1M1137.3,530.7h1M1010.8,514.5h1M1024.9,498.5h1M1062.2,544.9h1M1046.9,515.3h1M1095.1,562.7h1M1030.9,526.9h1M1098.1,511.1h1M1120.4,549.5h1M1063.5,511.6h1M1124.9,513.4h1M1008.2,551.0h1M1022.5,564.6h1M1061.7,510.3h1M1008.5,526.6h1M1094.7,564.4h1M993.5,524.9h1M976.7,524.9h1M1094.6,523.9h1M1037.9,520.6h1M1019.6,522.0h1M1034.5,555.3h1M1125.3,527.7h1M974.6,530.6h1M1037.7,562.3h1M1002.6,522.9h1M1045.1,554.6h1M1110.7,560.8h1M1031.1,516.3h1M1151.7,540.8h1M1016.1,547.9h1M1026.7,516.6h1M1143.7,542.0h1M1010.6,530.7h1M1040.4,514.8h1M1048.8,532.0h1M1121.5,549.4h1M1125.4,551.9h1M1083.4,520.3h1M1027.3,522.7h1M1003.5,550.5h1M1013.2,501.6h1M971.6,536.2h1M1028.5,566.6h1M1016.7,503.0h1M983.8,532.4h1M1103.4,528.7h1M1010.7,526.6h1M1086.0,544.9h1M1110.9,557.1h1M1094.6,505.6h1M1129.0,517.9h1M1075.5,523.5h1M1108.9,511.1h1M1013.2,514.4h1" stroke="#333" stroke-width="1"/><path d="M970.18,408.64 A120.3,69.5 0 0 0 1010.52,514.2 M1018.16,516.21 A120.3,69.5 0 0 0 1177.25,475.77 A120.3,69.5 0 0 0 1111.4,388.07" stroke="#000" stroke-width="15.5" stroke-linecap="butt"/><path d="M970.18,408.64 A120.3,69.5 0 0 0 1010.52,514.2 M1018.16,516.21 A120.3,69.5 0 0 0 1177.25,475.77 A120.3,69.5 0 0 0 1111.4,388.07" stroke="#efefef" stroke-width="13" stroke-linecap="butt"/><path d="M1169.1,411.4 L1186.7,400.6" stroke-width="1.0" /><path d="M1021.2,446 L1021.2,575" stroke-width="1.0" /><path d="M1060.6,446 L1060.6,575" stroke-width="1.0" /><path d="M1021.2,660 L1021.2,680" stroke-width="1.0" /><path d="M1060.6,668 L1060.6,680" stroke-width="1.0" /><path d="M1205.3,523.1 L1216.7,523.1 L1216.7,592.4 L1205.3,592.4" stroke-width="1.0" /><path d="M1216.7,562.4 L1227,562.4" stroke-width="1.0" /><path d="M1121.5,540.7 L1176.3,540.7" stroke-width="1.0" /><path d="M1176.3,585.2 L1209.4,585.2" stroke-width="1.0" /><ellipse cx="1367.6" cy="357.7" rx="42.8" ry="24.5" stroke-width="1.6"/><path d="M1324.8,357.7 L1324.8,417.9" stroke-width="1.5" /><path d="M1410.4,357.7 L1410.4,420" stroke-width="1.5" /><path d="M1324.8,417.9 C1335,424 1345,427 1352.3,426 C1365,424 1380,412 1393,412.8 C1402,413 1408,416 1410.4,420" stroke-width="1.6" /><path d="M1324.8,431.1 C1335,440 1345,443 1352.3,442.3 C1365,440 1380,426 1393,426 C1402,426 1408,428 1410.4,431.1" stroke-width="1.6" /><path d="M1326,423 C1326,426 1326,428 1326,430 M1409,423 L1409,430" stroke-width="1.0" /><path d="M1366,425 L1369,429" stroke-width="1.0" /><path d="M1324.8,431.1 L1324.8,489.2" stroke-width="1.5" /><path d="M1410.4,431.1 L1410.4,489.2" stroke-width="1.5" /><path d="M1324.8,489.2 A42.8,22.4 0 0 0 1410.4,489.2" stroke-width="1.6" /><path d="M1323.8,410.7 L1306.5,410.7 L1306.5,446.8 L1323.8,446.8" stroke-width="1.0" /><path d="M1286,429 L1306.5,429" stroke-width="1.0" /><path d="M1370.3,516.7 L1370.3,568.6" stroke-width="1.0" /><ellipse cx="1370" cy="571" rx="40.4" ry="17.6" stroke-width="1.2"/><path d="M1332,574 C1340,563 1400,563 1408,574" stroke-width="0.9" /><path d="M1329.5,571 L1329.5,617.8" stroke-width="1.1" /><path d="M1410.3,571 L1410.3,610.8" stroke-width="1.1" /><path d="M1330.6,583 C1345,598 1395,598 1409.2,583" stroke-width="1.0" /><path d="M1330.6,620.2 C1345,632 1360,636.6 1375.2,636.6 C1392,636 1405,628 1409.2,620.2" stroke-width="1.1" /><path d="M1330.6,579.2 L1343.5,574.5 L1375.2,590.9 L1363.5,597.9 M1357,593 L1370,588" stroke-width="1.0" /><path d="M1388,577 L1399,574 L1402,580 L1396,585" stroke-width="0.9" /><ellipse cx="1382.2" cy="585" rx="5.5" ry="3.5" stroke-width="1.0"/><path d="M1357,573 C1357,578 1366,579 1368,575" stroke-width="0.9" /><path d="M1333,622.5 L1333,683.5" stroke-width="1.1" /><path d="M1405.7,630 L1405.7,704.6" stroke-width="1.1" /><path d="M1349.4,631.9 C1360,640 1370,647 1379.9,647.1 C1390,647 1400,645 1405.7,641.3" stroke-width="1.0" /><path d="M1333,683.5 C1345,695 1365,711.6 1377.5,711.6 C1395,711.6 1405.7,708 1405.7,700" stroke-width="1.1" /><path d="M1379.9,648.3 L1379.9,706.9" stroke-width="0.9" /><ellipse cx="1295.5" cy="545.2" rx="3.5" ry="3" stroke-width="1.0"/><path d="M1297,547 L1321.3,560 L1320,563 L1295,550" stroke-width="1.0" /><path d="M1302.5,569.8 L1316.6,563.9" stroke-width="1.0" /><ellipse cx="1433.8" cy="601.4" rx="3.2" ry="3" stroke-width="1.0"/><path d="M1431,603 L1423.2,606 L1424,609.5 L1432,606" stroke-width="1.0" /><path d="M1435,606.1 L1442,610.8" stroke-width="1.0" /><path d="M1413.9,613.1 L1423.2,608" stroke-width="1.0" /><ellipse cx="1297.8" cy="681.1" rx="3.2" ry="3" stroke-width="1.0"/><path d="M1300,679 L1310.7,673 L1312,676 L1300,683" stroke-width="1.0" /><path d="M1293.1,665.9 L1304.9,671.7" stroke-width="1.0" /><path d="M1315.4,671.7 L1355.3,648.3" stroke-width="1.0" /><path d="M1290.8,624.9 L1331.8,647.1" stroke-width="1.0" /><path d="M1433.8,560.4 L1384.6,589.7" stroke-width="1.0" /><path d="M1445.5,539.3 L1474.8,521.7 L1494.7,533.4 L1494.7,663.5 L1461.9,646" stroke-width="1.0" /><path d="M1494.7,604.9 L1504.1,609.6" stroke-width="1.0" /><path d="M1286.1,554.5 L1269.7,544 L1269.7,594.4 L1252.1,587.4 L1252.1,723 L1288.6,745" stroke-width="1.0" /><path d="M1238,650.6 L1252.1,660" stroke-width="1.0" /><path d="M1364.6,716.3 L1364.6,757" stroke-width="1.0" /><ellipse cx="1369.8" cy="758.8" rx="49" ry="29.4" stroke-width="1.2"/><path d="M1320.7,762 C1322,780 1345,790 1369.8,790 C1395,790 1418,780 1418.9,765" stroke-width="1.0" /><path d="M1337.2,737.7 C1332,740 1331,748 1336,752 L1375,772 C1385,777 1402,777 1406,769 C1409,762 1404,757 1398,754 L1360,736 C1350,733 1342,734 1337.2,737.7 Z" stroke-width="1.2" /><path d="M1340,741 L1398,757" stroke-width="0.8" /><path d="M1365.6,799.2 L1365.6,818.4" stroke-width="1.0" /><path d="M1311.6,726.7 L1332.7,738.6" stroke-width="1.0" /><path d="M708.1,752 L708.1,714.2 L710,712 L710,752" stroke-width="1.0" /><path d="M710,714 L721.4,719 L721.4,753.9" stroke-width="1.0" /><path d="M701.5,755 L708,750 L721.4,753 L715,760.5 Z" stroke-width="1.0" /><ellipse cx="711.5" cy="755" rx="3" ry="1.8" stroke-width="0.9"/><path d="M710.8,714 L710.8,702.3 L668.4,724.8 L668.4,820 L639.3,834.7" stroke-width="1.0" /><path d="M717.4,760.5 L717.4,784.4" stroke-width="1.0" /><path d="M791.6,768.5 L791.6,837.4" stroke-width="1.0" /><path d="M632.6,773 L636,770 L644,770 L647.4,773 L647.4,777 L644,779 L636,779 L632.6,777 Z" stroke-width="1.1" /><path d="M634.5,779 L634.5,808 L637,811 L642,811 L644.5,808 L644.5,779" stroke-width="1.0" /><path d="M635,795 L644,796" stroke-width="0.7" /><path d="M635,798 L644,799" stroke-width="0.7" /><path d="M635,801 L644,802" stroke-width="0.7" /><path d="M635,804 L644,805" stroke-width="0.7" /><path d="M635,807 L644,808" stroke-width="0.7" /><path d="M619.3,777.5 L634,786.4" stroke-width="1.0" /><path d="M640,817.6 L640,835.4 L666.7,819 L668.2,722.6 L699.4,707.8" stroke-width="1.0" /><ellipse cx="640" cy="857.7" rx="9" ry="5.5" stroke-width="1.1"/><ellipse cx="640" cy="857" rx="4" ry="2.2" stroke-width="1.0"/><path d="M631,858 L631,860 C633,865 647,865 649,860 L649,858" stroke-width="1.0" /><path d="M619.3,848.8 L631.1,856.2" stroke-width="1.0" /><path d="M640,840 L640,850" stroke-width="1.0" /><path d="M640,869.5 L640,891.8" stroke-width="1.0" /><path d="M631,897 L635,893 L645,893 L649,897 L649,903 L645,906.6 L635,906.6 L631,903 Z M631,900 L649,900" stroke-width="1.1" /><ellipse cx="640" cy="897" rx="4.5" ry="2.2" stroke-width="0.9"/><path d="M611.8,885.8 L631.1,897.7" stroke-width="1.0" /><path d="M865.4,656.3 L873.6,654.7 L880,671 L883.3,680.8 L912.7,677.5 C918,679 921,684 920.9,689" stroke-width="1.0" /><path d="M912.7,692 C913,688 925.8,688 925.8,692 L925.8,700 L922,705.3 L916,705.3 L912.7,700 Z M913,696 L925.5,696" stroke-width="1.1" /><ellipse cx="919" cy="691" rx="5" ry="2.5" stroke-width="0.9"/><path d="M918.6,705.3 L918.6,713.4" stroke-width="1.0" /><ellipse cx="918.6" cy="716.7" rx="5" ry="2.5" stroke-width="1.0"/><path d="M925.8,698.7 L937.2,690.6" stroke-width="1.0" /><ellipse cx="919.2" cy="736.2" rx="8" ry="4.5" stroke-width="1.1"/><ellipse cx="919.2" cy="736.2" rx="3.5" ry="1.8" stroke-width="0.9"/><path d="M893.1,752.6 L914.3,742.8" stroke-width="1.0" /><path d="M907.8,776 L913,769 L925,769 L930.7,776 L930.7,783 L925,790 L913,790 L907.8,783 Z M907.8,779 L930.7,779 M919,779 L919,790" stroke-width="1.1" /><ellipse cx="919" cy="775" rx="6.5" ry="3.5" stroke-width="1.0"/><path d="M893.1,790 L909.4,781.9" stroke-width="1.0" /><ellipse cx="917.6" cy="814.6" rx="11" ry="6" stroke-width="1.3"/><ellipse cx="917.6" cy="814.6" rx="7" ry="3.5" stroke-width="1.0"/><path d="M891.5,829.2 L907.8,821.1" stroke-width="1.0" /><path d="M906.2,840.6 L906.2,862 L917,867 L930.7,860 L930.7,840.6" stroke-width="1.1" /><ellipse cx="918.4" cy="840.6" rx="12.2" ry="6.5" stroke-width="1.2"/><ellipse cx="918.4" cy="840.6" rx="7" ry="3.5" stroke-width="1.0"/><path d="M897,866 L933,849 M904,882 L941,863" stroke-width="1.1" /><ellipse cx="901.3" cy="873.3" rx="8" ry="11" stroke-width="1.3" transform="rotate(-30 901.3 873.3)"/><ellipse cx="901.3" cy="873.3" rx="4.5" ry="7" stroke-width="1.0" transform="rotate(-30 901.3 873.3)"/><ellipse cx="938.8" cy="855.3" rx="5" ry="9" stroke-width="1.1" transform="rotate(-30 938.8 855.3)"/><path d="M919.2,878.2 L938.8,892.9" stroke-width="1.0" /><path d="M943.7,848.8 L955,840.6" stroke-width="1.0" /><path d="M858.9,892.9 L894.8,871.6" stroke-width="1.0" /><path d="M803.4,930.4 L827.9,920.6" stroke-width="1.0" /><path d="M1023.7,670 L1023.7,706.3" stroke-width="1.0" /><path d="M1061,670 L1061,693.7" stroke-width="1.0" /><path d="M1009.5,713.9 L1016.5,707.9 L1032.5,707.9 L1039.5,713.9 L1039.5,723 L1032.5,730 L1016.5,730 L1009.5,723 Z M1009.5,718.9 L1039.5,718.9 M1024.5,718.9 L1024.5,730" stroke-width="1.1" /><ellipse cx="1024.5" cy="712.9" rx="8" ry="3.8" stroke-width="1.0"/><ellipse cx="1024.5" cy="712.9" rx="4" ry="1.8" stroke-width="0.9"/><path d="M1045.8,699.7 L1052.8,693.7 L1068.8,693.7 L1075.8,699.7 L1075.8,710.4 L1068.8,717.4 L1052.8,717.4 L1045.8,710.4 Z M1045.8,704.7 L1075.8,704.7 M1060.8,704.7 L1060.8,717.4" stroke-width="1.1" /><ellipse cx="1060.8" cy="698.7" rx="8" ry="3.8" stroke-width="1.0"/><ellipse cx="1060.8" cy="698.7" rx="4" ry="1.8" stroke-width="0.9"/><path d="M995.3,717.4 L1009.5,717.4" stroke-width="1.0" /><path d="M1075.8,703.2 L1093.2,703.2" stroke-width="1.0" /><path d="M1061,723.7 L1061,764.8 L1192.7,692.1 L1192.7,761.6" stroke-width="1.0" /><path d="M1007.9,748 L1014.9,741 L1030.9,741 L1037.9,748 L1037.9,757.8 L1030.9,764.8 L1014.9,764.8 L1007.9,757.8 Z M1007.9,752 L1037.9,752 M1022.9000000000001,752 L1022.9000000000001,764.8" stroke-width="1.2" /><ellipse cx="1022.9000000000001" cy="747" rx="9" ry="4.5" stroke-width="1.1"/><ellipse cx="1022.9000000000001" cy="747" rx="5" ry="2.5" stroke-width="1.0"/><path d="M1014.9000000000001,764.8 L1014.9000000000001,773.8 M1030.9,764.8 L1030.9,773.8 M1014.9000000000001,770.8 C1018.9000000000001,773.8 1026.9,773.8 1030.9,770.8" stroke-width="1.1" /><path d="M1014.9,773.8 L1014.9,796 C1013,808 1000,817 981.3,820.9" stroke-width="1.2" /><path d="M1030.9,773.8 L1031,800 C1029,818 1010,832 990.3,837.7" stroke-width="1.2" /><path d="M966.5,850.4 L990.3,837.7 M957.5,833.6 L981.4,820.9" stroke-width="1.2"/><ellipse cx="962" cy="842" rx="5.5" ry="9.5" stroke-width="1.3" transform="rotate(-28 962 842)"/><ellipse cx="962" cy="842" rx="3.5" ry="6.5" stroke-width="1.0" transform="rotate(-28 962 842)"/><path d="M977.2,844.7 Q975.4,834.9 968.3,827.9" stroke-width="1.0"/><path d="M963.8,832.6 l-1.4,-2.6" stroke-width="1.1"/><path d="M966.0,831.4 l-1.4,-2.6" stroke-width="1.1"/><path d="M968.2,830.2 l-1.4,-2.6" stroke-width="1.1"/><path d="M970.4,829.0 l-1.4,-2.6" stroke-width="1.1"/><path d="M1176.9,762.3 L1183.9,755.3 L1199.9,755.3 L1206.9,762.3 L1206.9,772 L1199.9,779 L1183.9,779 L1176.9,772 Z M1176.9,766.3 L1206.9,766.3 M1191.9,766.3 L1191.9,779" stroke-width="1.2" /><ellipse cx="1191.9" cy="761.3" rx="9" ry="4.5" stroke-width="1.1"/><ellipse cx="1191.9" cy="761.3" rx="5" ry="2.5" stroke-width="1.0"/><path d="M1183.9,779 L1183.9,788 M1199.9,779 L1199.9,788 M1183.9,785 C1187.9,788 1195.9,788 1199.9,785" stroke-width="1.1" /><path d="M1183.9,788 L1183.9,808 C1182,822 1168,831 1148.7,834.1" stroke-width="1.2" /><path d="M1199.9,788 L1199.9,812 C1197,835 1178,848 1157.7,850.9" stroke-width="1.2" /><path d="M1133.0,864.0 L1157.7,850.8 M1124.0,847.2 L1148.8,834.1" stroke-width="1.2"/><ellipse cx="1128.5" cy="855.6" rx="5.5" ry="9.5" stroke-width="1.3" transform="rotate(-28 1128.5 855.6)"/><ellipse cx="1128.5" cy="855.6" rx="3.5" ry="6.5" stroke-width="1.0" transform="rotate(-28 1128.5 855.6)"/><path d="M1144.1,858.1 Q1142.3,848.3 1135.2,841.3" stroke-width="1.0"/><path d="M1130.3,846.2 l-1.4,-2.6" stroke-width="1.1"/><path d="M1132.5,845.0 l-1.4,-2.6" stroke-width="1.1"/><path d="M1134.7,843.8 l-1.4,-2.6" stroke-width="1.1"/><path d="M1136.9,842.6 l-1.4,-2.6" stroke-width="1.1"/><path d="M990.5,791.6 L1006.3,797.9" stroke-width="1.0" /><path d="M1199,818.5 L1211.6,824.8" stroke-width="1.0" /><path d="M946.3,846.9 L955,842" stroke-width="1.0" /><path d="M1077.8,802.8 L1077.8,836 M1100.7,802.8 L1100.7,836" stroke-width="1.2" /><ellipse cx="1089.2" cy="802.8" rx="11.4" ry="6.4" stroke-width="1.3"/><path d="M1077.8,808 L1067,813 M1077.8,815 L1069,820" stroke-width="1.1" /><ellipse cx="1068" cy="816.5" rx="3" ry="4.5" stroke-width="1.0" transform="rotate(-30 1068 816.5)"/><path d="M1098.5,800 L1108,789 M1100.7,806 L1111,795" stroke-width="1.1" /><path d="M1107,786 L1124,779.3 C1131,781 1133,795 1128,800 L1111,801.4 Z M1118,781 L1121,799 M1113,783 L1115,800" stroke-width="1.1" /><path d="M1130,781.4 C1138,777 1150,778 1161.3,789.3 M1130,786 C1140,783 1150,784 1159,792" stroke-width="1.0" /><path d="M1070,840 C1071,830 1108,830 1109.2,840 L1109.2,855 C1108,862 1071,862 1070,855 Z" stroke-width="1.3" /><path d="M1070,845 C1075,850 1104,850 1109.2,845 M1079.3,848 L1079.3,860 M1099.2,848 L1099.2,860" stroke-width="1.0" /><path d="M1078.5,862 L1078.5,870 M1100,861 L1100,866" stroke-width="1.1" /><path d="M1058.6,881.3 L1068.5,871.3 L1084.2,874.2 L1092.8,891.3 L1084.2,902.7 L1067.1,904.1 Z" stroke-width="1.4" /><ellipse cx="1073" cy="888" rx="8" ry="10.5" stroke-width="1.3" transform="rotate(-25 1073 888)"/><ellipse cx="1073" cy="888" rx="5" ry="7.5" stroke-width="1.0" transform="rotate(-25 1073 888)"/><path d="M1084.2,874.2 L1101.4,861.3 L1112.8,857 L1120,872.7 L1114.2,887 L1104.2,888.4 L1092.8,891.3" stroke-width="1.2" /><path d="M1101.4,861.3 L1104.2,888.4 M1068.5,871.3 L1078.5,868" stroke-width="1.0" /><path d="M1036.3,834.2 L1015.8,834.2 L1015.8,883.2 L1039.5,883.2" stroke-width="1.0" /><path d="M1000,859.5 L1015.8,859.5" stroke-width="1.0" /><path d="M1056.9,848.5 L1069.5,848.5" stroke-width="1.0" /><path d="M1025.3,876.9 L1058.4,876.9" stroke-width="1.0" /><path d="M1033.2,910 L1055.3,897.4" stroke-width="1.0" /><path d="M971.6,946.4 L1000,932.2" stroke-width="1.0" /><path d="M568,617 L603,634 C608,636 611,640 611,645 L611,688 C611,692 608,693 605,692 L570,676 C566,674 564,671 564,667 L564,622 C564,618 566,616 568,617 Z" stroke-width="1.8" /><path d="M566,681 C568,685 572,687 576,689 L604,699 C608,700 611,698 611,694" stroke-width="1.0" /><path d="M572.4,615.8 L627.4,585.5 L664.1,580" stroke-width="1.8" /><path d="M611,692 L633,680 L664.1,680" stroke-width="1.8" /><path d="M614.6,640.6 L627,633 L664.1,629.6" stroke-width="1.0" /><path d="M630,636 L630,680" stroke-width="1.0" /><path d="M583,617 L607,629 C610,631 609,634 606,633 L582,621 C580,619 581,616 583,617 Z" stroke-width="1.0" /><path d="M615,655 C615,652 620,652 620,655 L620,679 C620,682 615,682 615,679 Z" stroke-width="1.0" /><path d="M569.6,626 C569.6,623 572.4,623 572.4,626 L572.4,651 C572.4,654 569.6,654 569.6,651 Z" stroke-width="0.9" /><path d="M572,660 L574,666" stroke-width="0.9" /><path d="M573,673 L581,668 M583,683 L589,688" stroke-width="0.9" /><path d="M534.7,646 L534.7,624 C534.7,621 536,620 538,621 L593,651 C596,653 597.1,656 597.1,660 L597.1,720 C597.1,723 595,724 592,722 L569.6,709" stroke-width="1.1" /><path d="M538.5,646 L538.5,627 L591,655 C593,656 594,658 594,661 L594,716 C594,718 593,719 591,718 L569.6,705" stroke-width="1.0" /><path d="M538.4,605.7 C542,612 548,618 554,625 L581.5,644" stroke-width="3.4" stroke="#444" stroke-dasharray="1.2,1.2"/><ellipse cx="553" cy="624" rx="3" ry="2.5" stroke-width="1.0"/><path d="M512.7,611.2 L534.7,622.2" stroke-width="1.0" /><path d="M465,680 C465,674 470,671 475,674 L508,692 C513,695 515.4,699 515.4,705 L515.4,745 C515.4,750 512,753 507,750 L475,733 C469,730 465,726 465,720 Z" stroke-width="1.1" fill="#fff"/><path d="M470,672 L520,644 C524,642 528,642 532,644 L561,661 C565,664 567,667 567,672 L567,716 C567,720 565,723 561,725 L515.4,750" stroke-width="1.1" /><path d="M508,692 L561,662" stroke-width="1.0" /><path d="M519,695.6 L557.7,675.4" stroke-width="1.0" /><path d="M488.8,660.8 L469.6,650.7" stroke-width="1.0" /><path d="M470,700 C468,712 472,725 480,732" stroke-width="0.9" /><path d="M432.8,745 L432.8,686 C432.8,681 435,679 439,681 L492,708 C495,710 497,713 497,717 L497,776" stroke-width="1.1" /><path d="M436.5,742 L436.5,689 C436.5,686 438,685 440,686 L490,711 C492,712 493.5,714 493.5,717 L493.5,774" stroke-width="1.0" /><path d="M432.8,745 C433,749 436,751 440,753 L480,773 C486,776 490,778 493,779 M436.5,742 C437,745 439,747 442,749 L480,769 C485,772 489,773 493.5,774" stroke-width="1.0" /><path d="M436,665 C438,672 443,680 448,686 L480,706" stroke-width="3.4" stroke="#444" stroke-dasharray="1.2,1.2"/><ellipse cx="447" cy="685" rx="3" ry="2.5" stroke-width="1.0"/><path d="M417.5,712.3 L432.3,721.2" stroke-width="1.0" /><path d="M476,722 C471,726 472,735 478,740" stroke-width="0.9" /><path d="M420,759 L481,727" stroke-width="1.0" /><path d="M480,719 L493,712" stroke-width="1.0" /><path d="M500,706 L510,700" stroke-width="1.0" /><path d="M439.7,750.8 L414.5,765.7 L414.5,774.6" stroke-width="1.0" /><path d="M417.5,825 L417.5,850" stroke-width="1.0" /><path d="M956.3,227.2 L972.3,234.8" stroke-width="1.0" /><path d="M342,28 L372,28" stroke-width="1.0" /></g><g font-family="Liberation Sans" font-size="33" fill="#000" stroke="#000" stroke-width="0.5"><text x="145.60" y="68.80">64</text><text x="54.40" y="118.30">65</text><text x="51.70" y="219.00">2</text><text x="91.70" y="213.60">1</text><text x="178.50" y="209.30">4</text><text x="216.50" y="277.20">36</text><text x="280.50" y="263.00">8</text><text x="115.30" y="309.30">3</text><text x="218.50" y="310.10">37</text><text x="146.50" y="329.20">5</text><text x="261.10" y="387.80">7</text><text x="338.30" y="373.50">44</text><text x="85.30" y="462.10">43</text><text x="259.30" y="508.20">8</text><text x="84.50" y="613.70">47</text><text x="3.70" y="673.40">19</text><text x="85.60" y="673.40">9</text><text x="329.60" y="673.00">19</text><text x="288.70" y="716.20">13</text><text x="44.80" y="726.10">11</text><text x="42.70" y="760.80">12</text><text x="232.20" y="900.00">15</text><text x="351.50" y="102.40">39</text><text x="353.00" y="148.20">40</text><text x="354.50" y="188.00">41</text><text x="353.00" y="226.00">45</text><text x="353.00" y="276.00">46</text><text x="478.30" y="611.90">17</text><text x="429.70" y="646.20">18</text><text x="382.50" y="716.20">17</text><text x="687.60" y="135.30">14</text><text x="836.60" y="197.10">16</text><text x="704.40" y="222.00">51</text><text x="809.70" y="276.60">48</text><text x="607.00" y="323.70">10</text><text x="604.10" y="461.80">19</text><text x="915.20" y="230.20">20</text><text x="1191.60" y="400.20">42</text><text x="964.20" y="418.20">21</text><text x="1088.40" y="429.20">21</text><text x="1244.20" y="439.10">31</text><text x="1176.90" y="553.90">33</text><text x="1229.50" y="574.30">22</text><text x="1440.50" y="571.90">54</text><text x="1276.80" y="594.60">55</text><text x="1255.30" y="630.50">29</text><text x="1443.20" y="632.90">53</text><text x="1507.30" y="629.30">56</text><text x="1200.60" y="653.20">56</text><text x="1255.30" y="668.40">53</text><text x="940.50" y="694.00">66</text><text x="958.10" y="730.20">23</text><text x="1091.70" y="714.40">23</text><text x="1271.70" y="728.20">52</text><text x="853.50" y="768.70">60</text><text x="954.30" y="786.70">28</text><text x="577.70" y="778.60">58</text><text x="697.90" y="816.40">57</text><text x="852.50" y="805.00">62</text><text x="854.10" y="845.30">61</text><text x="1213.30" y="843.50">28</text><text x="576.60" y="847.70">25</text><text x="1019.40" y="860.90">50</text><text x="963.40" y="871.90">49</text><text x="574.70" y="889.00">26</text><text x="933.80" y="904.10">63</text></g><g font-family="Liberation Sans" font-size="19.1" fill="#000" stroke="#000" stroke-width="0.25"><text x="291.5" y="514.4">Für Verbrennungsluftmessung</text><text x="291.5" y="534.2">For combustion air measurement</text><text x="291.5" y="554">Pour mesurage de l&#39;air de combustion</text></g><rect x="382.2" y="7.2" width="75.70" height="45.40" fill="#0d7deb"/><text x="387.5" y="46" font-family="Liberation Sans" font-weight="bold" font-size="45" fill="#fff">4.2</text><rect x="387.2" y="856.9" width="62.00" height="37.80" fill="#0d7deb"/><text x="391" y="890" font-family="Liberation Sans" font-weight="bold" font-size="38" fill="#fff">4.2</text><rect x="736.3" y="917.1" width="62.20" height="36.40" fill="#0d7deb"/><text x="739.5" y="949.4" font-family="Liberation Sans" font-weight="bold" font-size="38" fill="#fff">3.2</text><rect x="902.8" y="937" width="63.00" height="36.70" fill="#0d7deb"/><text x="904.8" y="968.8" font-family="Liberation Sans" font-weight="bold" font-size="37.5" fill="#fff">7.1</text><path d="M132.7,18.8 L132.7,78.8 L73,78.8 Z" fill="#000"/><circle cx="102.6" cy="48.3" r="26.8" fill="#f80000"/><text x="101.5" y="65.8" text-anchor="middle" font-family="Liberation Sans" font-weight="bold" font-size="51" fill="#fff">2</text><path d="M209.9,163.8 L209.9,224.6 L270.7,224.6 Z" fill="#000"/><circle cx="240.7" cy="194.4" r="26.8" fill="#f80000"/><text x="237.5" y="212" text-anchor="middle" font-family="Liberation Sans" font-weight="bold" font-size="51" fill="#fff"></text><path d="M238,175.3 L245.1,175.3 L245.1,212 L237.9,212 L237.9,188 C235,190 231,191 228.7,191 L228.7,184 C233,183 236.5,180 238,175.3 Z" fill="#fff"/><ellipse cx="323.4" cy="28.6" rx="16" ry="29" transform="rotate(32 323.4 28.6)" fill="#fff" stroke="#000" stroke-width="1.1"/><g transform="translate(323.4,28.6) skewY(-30)"><text x="0" y="10.8" text-anchor="middle" font-family="Liberation Sans" font-weight="bold" font-size="30" fill="#000" stroke="#000" stroke-width="0.4">ap</text></g><ellipse cx="417.1" cy="799.9" rx="16" ry="29" transform="rotate(-30 417.1 799.9)" fill="#fff" stroke="#000" stroke-width="1.1"/><g transform="translate(417.1,799.9) skewY(25)"><text x="0" y="10.8" text-anchor="middle" font-family="Liberation Sans" font-weight="bold" font-size="30" fill="#000" stroke="#000" stroke-width="0.4">al</text></g><ellipse cx="844.1" cy="908.2" rx="15.5" ry="28" transform="rotate(30 844.1 908.2)" fill="#fff" stroke="#000" stroke-width="1.1"/><g transform="translate(844.1,908.2) skewY(-30)"><text x="0" y="10.8" text-anchor="middle" font-family="Liberation Sans" font-weight="bold" font-size="30" fill="#000" stroke="#000" stroke-width="0.4">ah</text></g><ellipse cx="1017.4" cy="919.5" rx="15.5" ry="28" transform="rotate(30 1017.4 919.5)" fill="#fff" stroke="#000" stroke-width="1.1"/><g transform="translate(1017.4,916.5) skewY(-30)"><text x="0" y="10.8" text-anchor="middle" font-family="Liberation Sans" font-weight="bold" font-size="30" fill="#000" stroke="#000" stroke-width="0.4">ag</text></g><ellipse cx="717.9" cy="290.4" rx="12.5" ry="19.3" transform="rotate(-28 717.9 290.4)" fill="#fff" stroke="#000" stroke-width="0.9"/><g transform="translate(717.9,290.4) skewY(30)"><text x="0" y="8.3" text-anchor="middle" font-family="Liberation Sans" font-weight="bold" font-size="23" fill="#000" stroke="#000" stroke-width="0">A</text></g><ellipse cx="862.1" cy="253.6" rx="12.5" ry="19.3" transform="rotate(-28 862.1 253.6)" fill="#fff" stroke="#000" stroke-width="0.9"/><g transform="translate(862.1,253.6) skewY(30)"><text x="0" y="8.3" text-anchor="middle" font-family="Liberation Sans" font-weight="bold" font-size="23" fill="#000" stroke="#000" stroke-width="0">C</text></g><ellipse cx="1062.1" cy="68.2" rx="12.5" ry="19.3" transform="rotate(-28 1062.1 68.2)" fill="#fff" stroke="#000" stroke-width="0.9"/><g transform="translate(1062.1,68.2) skewY(30)"><text x="0" y="8.3" text-anchor="middle" font-family="Liberation Sans" font-weight="bold" font-size="23" fill="#000" stroke="#000" stroke-width="0">B</text></g><ellipse cx="791.6" cy="854.5" rx="12.5" ry="19.3" transform="rotate(-28 791.6 854.5)" fill="#fff" stroke="#000" stroke-width="0.9"/><g transform="translate(791.6,854.5) skewY(30)"><text x="0" y="8.3" text-anchor="middle" font-family="Liberation Sans" font-weight="bold" font-size="23" fill="#000" stroke="#000" stroke-width="0">B</text></g><ellipse cx="1365.2" cy="835" rx="12.5" ry="19.3" transform="rotate(-28 1365.2 835)" fill="#fff" stroke="#000" stroke-width="0.9"/><g transform="translate(1365.2,835) skewY(30)"><text x="0" y="8.3" text-anchor="middle" font-family="Liberation Sans" font-weight="bold" font-size="23" fill="#000" stroke="#000" stroke-width="0">C</text></g><ellipse cx="133.5" cy="881.3" rx="12.5" ry="19.3" transform="rotate(-28 133.5 881.3)" fill="#fff" stroke="#000" stroke-width="0.9"/><g transform="translate(133.5,881.3) skewY(30)"><text x="0" y="8.3" text-anchor="middle" font-family="Liberation Sans" font-weight="bold" font-size="23" fill="#000" stroke="#000" stroke-width="0">A</text></g></svg></body></html>
